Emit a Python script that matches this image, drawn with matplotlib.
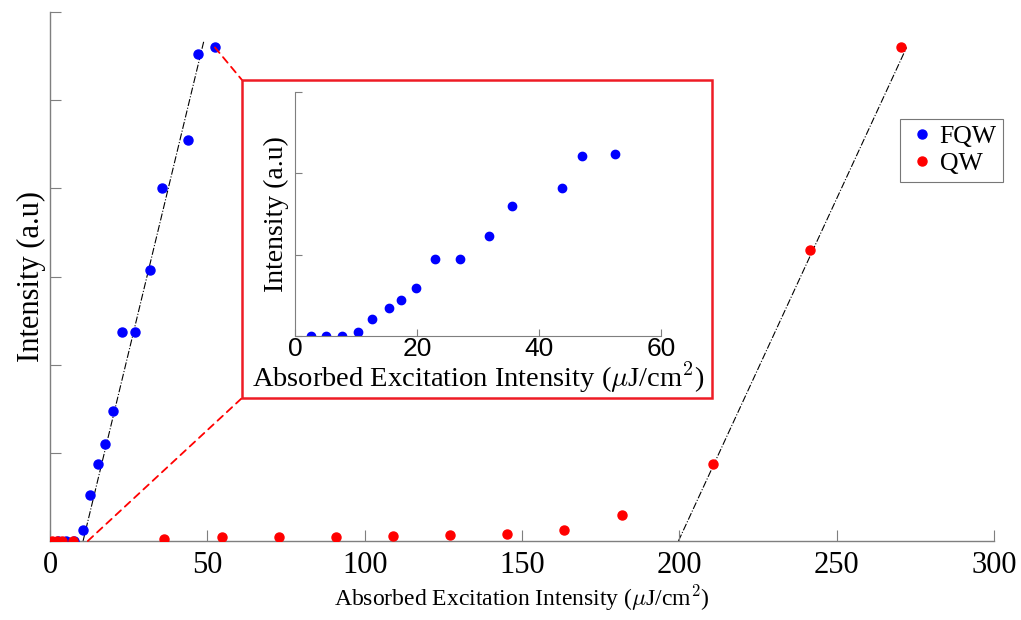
import numpy as np
import matplotlib
matplotlib.use("Agg")
import matplotlib.pyplot as plt
from matplotlib.patches import Rectangle, ConnectionPatch

plt.rcParams['font.family'] = ['Liberation Serif', 'DejaVu Serif']
plt.rcParams['mathtext.fontset'] = 'cm'

# FQW data (absorbed excitation intensity, uJ/cm^2) and intensity (a.u.)
fqw_x = [2.6, 5.1, 7.7, 10.4, 12.7, 15.4, 17.4, 19.9, 23.0, 27.1, 31.8, 35.6, 43.7, 47.0, 52.4]
fqw_y = [0.0, 0.0, 0.0, 0.05, 0.21, 0.35, 0.44, 0.59, 0.95, 0.95, 1.23, 1.60, 1.82, 2.21, 2.24]

# QW data
qw_x = [0.5, 2.1, 3.7, 7.4, 36.2, 54.6, 72.8, 90.9, 108.9, 127.1, 145.2, 163.3, 181.7, 210.6, 241.4, 270.5]
qw_y = [0.0, 0.0, 0.0, 0.0, 0.008, 0.016, 0.018, 0.018, 0.021, 0.029, 0.032, 0.048, 0.12, 0.35, 1.32, 2.24]

# linear fits (threshold lines)
fqw_fit_x = [10.5, 48.9]
fqw_fit_y = [0.0, 2.27]
qw_fit_x = [199.7, 272.2]
qw_fit_y = [0.0, 2.24]

main_xticks = [0, 50, 100, 150, 200, 250, 300]
main_yticks = [0, 0.4, 0.8, 1.2, 1.6, 2.0, 2.4]
inset_xticks = [0, 20, 40, 60]
inset_yticks = [0, 1, 2, 3]

xlabel = r'Absorbed Excitation Intensity ($\mu$J/cm$^2$)'
ylabel = 'Intensity (a.u)'

axis_gray = '#7f7f7f'

fig = plt.figure(figsize=(10.21, 6.2), dpi=100)

# ---- main axes ----
ax = fig.add_axes([0.049, 0.1274, 0.9246, 0.853])
ax.plot(fqw_fit_x, fqw_fit_y, color='black', linestyle='-.', linewidth=0.8, zorder=1)
ax.plot(qw_fit_x, qw_fit_y, color='black', linestyle='-.', linewidth=0.8, zorder=1)
ax.plot(fqw_x, fqw_y, 'o', color='#0000ff', markersize=6.5, label='FQW', zorder=3)
ax.plot(qw_x, qw_y, 'o', color='#ff0000', markersize=6.5, label='QW', zorder=4)

ax.set_xlim(0, 300)
ax.set_ylim(0, 2.4)
ax.set_xticks(main_xticks)
ax.set_yticks(main_yticks)
ax.set_yticklabels([])
for s in ['top', 'right']:
    ax.spines[s].set_visible(False)
for s in ['left', 'bottom']:
    ax.spines[s].set_color(axis_gray)
    ax.spines[s].set_linewidth(1.0)
ax.tick_params(direction='in', length=8, color=axis_gray, labelsize=22, pad=7)
ax.set_xlabel(xlabel, fontsize=17, labelpad=2)
ax.set_ylabel(ylabel, fontsize=22, labelpad=-4)

leg = ax.legend(loc='upper right', bbox_to_anchor=(1003 / 1021, 1 - 119 / 620),
                bbox_transform=fig.transFigure, fontsize=18.5, frameon=True, fancybox=False,
                handletextpad=0.1, handlelength=1.2, borderpad=0.25, labelspacing=0.15,
                borderaxespad=0)
leg.get_frame().set_edgecolor('#555555')
leg.get_frame().set_linewidth(0.8)

# ---- red frame around inset ----
box = Rectangle((242 / 1021, 1 - 398 / 620), (712 - 242) / 1021, (398 - 80) / 620,
                transform=fig.transFigure, fill=False, edgecolor='#ee1c25', linewidth=1.8, zorder=5)
fig.patches.append(box)

# dashed connectors from main data to the inset frame
con1 = ConnectionPatch(xyA=(fqw_x[-1], fqw_y[-1]), coordsA=ax.transData,
                       xyB=(242 / 1021, 1 - 80 / 620), coordsB=fig.transFigure,
                       color='#ff0000', linestyle=(0, (4, 3)), linewidth=1.3, zorder=2)
con2 = ConnectionPatch(xyA=(fqw_fit_x[0] + 1.5, 0), coordsA=ax.transData,
                       xyB=(242 / 1021, 1 - 398 / 620), coordsB=fig.transFigure,
                       color='#ff0000', linestyle=(0, (4, 3)), linewidth=1.3, zorder=2)
fig.add_artist(con1)
fig.add_artist(con2)

# ---- inset axes ----
axin = fig.add_axes([295 / 1021, 1 - 336 / 620, 366 / 1021, 244 / 620])
axin.plot(fqw_x, fqw_y, 'o', color='#0000ff', markersize=6)
axin.set_xlim(0, 60)
axin.set_ylim(0, 3)
axin.set_xticks(inset_xticks)
axin.set_yticks(inset_yticks)
axin.set_yticklabels([])
axin.set_xticklabels([str(t) for t in inset_xticks], family=['Liberation Sans', 'DejaVu Sans'])
for s in ['top', 'right']:
    axin.spines[s].set_visible(False)
for s in ['left', 'bottom']:
    axin.spines[s].set_color(axis_gray)
axin.tick_params(direction='in', length=5, color=axis_gray, labelsize=19, pad=1)
axin.set_xlabel(xlabel, fontsize=20.5, labelpad=-1)
axin.set_ylabel(ylabel, fontsize=20, labelpad=3)

fig.savefig('out.png', dpi=100)
